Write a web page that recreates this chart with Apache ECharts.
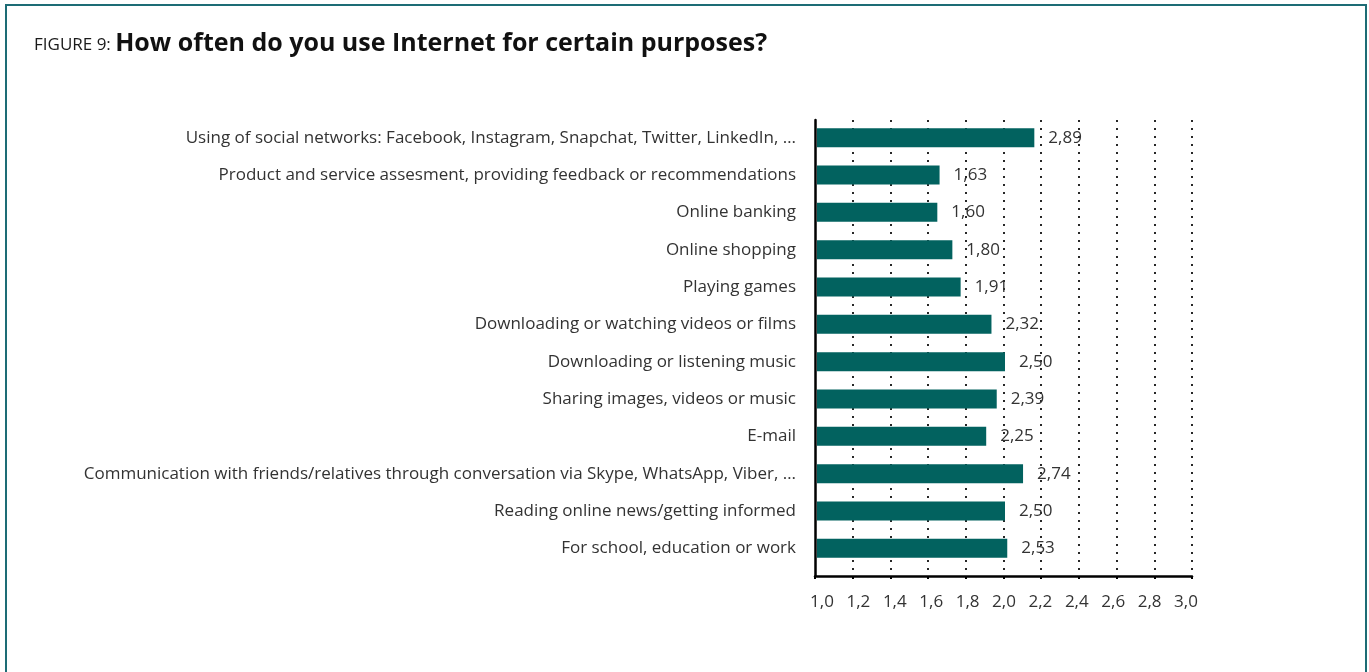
<!DOCTYPE html>
<html>
<head>
<meta charset="utf-8">
<script src="https://cdn.jsdelivr.net/npm/echarts@6/dist/echarts.min.js"></script>
<style>
  html, body { margin: 0; padding: 0; overflow: hidden; background: #fff; }
  #chart { position: absolute; left: 0; top: 0; width: 1369px; height: 672px; }
  #frame { position: absolute; left: 5px; top: 4px; width: 1362px; height: 720px;
           border: 2px solid #1d6c75; box-sizing: border-box; pointer-events: none; }
</style>
</head>
<body>
<div id="chart"></div>
<div id="frame"></div>
<script>
// Purposes, listed top to bottom
const categories = [
  'Using of social networks: Facebook, Instagram, Snapchat, Twitter, LinkedIn, …',
  'Product and service assesment, providing feedback or recommendations',
  'Online banking',
  'Online shopping',
  'Playing games',
  'Downloading or watching videos or films',
  'Downloading or listening music',
  'Sharing images, videos or music',
  'E-mail',
  'Communication with friends/relatives through conversation via Skype, WhatsApp, Viber, …',
  'Reading online news/getting informed',
  'For school, education or work'
];

// Average frequency score per purpose
const values = [2.89, 1.63, 1.60, 1.80, 1.91, 2.32, 2.50, 2.39, 2.25, 2.74, 2.50, 2.53];

// Printed scale under the plot
const tickMin = 1.0;
const tickMax = 3.0;
const tickStep = 0.2;

// Scale the bars are measured against
const barScaleMin = 0;
const barScaleMax = 5;

const FONT = '"Open Sans", "Noto Sans", sans-serif';
const comma = v => Number(v).toFixed(2).replace('.', ',');
const tickText = v => Number(v).toFixed(1).replace('.', ',');

const chart = echarts.init(document.getElementById('chart'), null, { renderer: 'canvas' });

chart.setOption({
  animation: false,
  backgroundColor: '#ffffff',
  title: {
    left: 29,
    top: 26,
    text: '{a|FIGURE 9: }{b|How often do you use Internet for certain purposes?}',
    textStyle: {
      rich: {
        a: { fontFamily: FONT, fontSize: 17, fontWeight: 400, color: '#1a1a1a', verticalAlign: 'bottom', padding: [0, 0, 2, 0] },
        b: { fontFamily: FONT, fontSize: 25, fontWeight: 700, color: '#111111', verticalAlign: 'bottom' }
      }
    }
  },
  grid: [
    // frame: axes lines, dotted grid
    { left: 815, top: 120, width: 377, height: 456, containLabel: false, outerBoundsMode: 'none' },
    // bars
    { left: 817, top: 119, width: 376, height: 448, containLabel: false, outerBoundsMode: 'none' },
    // printed scale labels
    { left: 822, top: 120, width: 364, height: 456, containLabel: false, outerBoundsMode: 'none' }
  ],
  xAxis: [
    {
      gridIndex: 0,
      type: 'value',
      min: tickMin,
      max: tickMax,
      interval: tickStep,
      axisLine: { show: true, onZero: false, lineStyle: { color: '#000', width: 2.5 } },
      axisTick: { show: true, length: 3, lineStyle: { color: '#000', width: 2 } },
      axisLabel: { show: false },
      splitLine: {
        show: true,
        showMinLine: false,
        lineStyle: { color: '#111', width: 1.8, type: [2, 6] }
      }
    },
    {
      gridIndex: 1,
      type: 'value',
      min: barScaleMin,
      max: barScaleMax,
      show: false
    },
    {
      gridIndex: 2,
      type: 'value',
      min: tickMin,
      max: tickMax,
      interval: tickStep,
      axisLine: { show: false },
      axisTick: { show: false },
      splitLine: { show: false },
      axisLabel: {
        margin: 18,
        fontFamily: FONT,
        fontSize: 17,
        color: '#333',
        formatter: tickText
      }
    }
  ],
  yAxis: [
    {
      gridIndex: 0,
      type: 'value',
      min: 0,
      max: 1,
      axisLine: { show: true, onZero: false, lineStyle: { color: '#000', width: 2.5 } },
      axisTick: { show: false },
      axisLabel: { show: false },
      splitLine: { show: false }
    },
    {
      gridIndex: 1,
      type: 'category',
      inverse: true,
      data: categories,
      axisLine: { show: false },
      axisTick: { show: false },
      axisLabel: {
        margin: 21,
        fontFamily: FONT,
        fontSize: 17,
        color: '#333'
      },
      splitLine: { show: false }
    },
    {
      gridIndex: 2,
      type: 'value',
      min: 0,
      max: 1,
      show: false
    }
  ],
  series: [
    {
      type: 'bar',
      xAxisIndex: 1,
      yAxisIndex: 1,
      data: values,
      barWidth: 19,
      itemStyle: { color: '#02625f' },
      label: {
        show: true,
        position: 'right',
        distance: 14,
        fontFamily: FONT,
        fontSize: 17,
        color: '#333',
        formatter: p => comma(p.value)
      }
    }
  ]
});
</script>
</body>
</html>
